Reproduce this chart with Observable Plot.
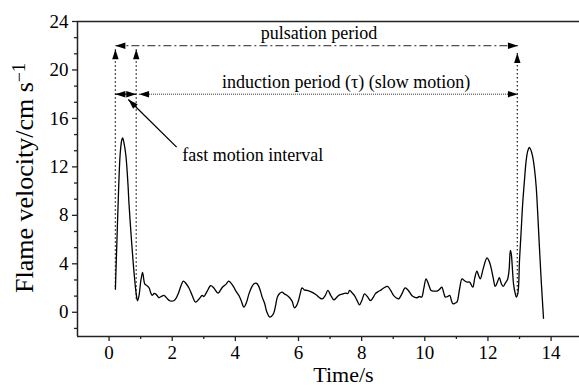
<!DOCTYPE html>
<html><head><meta charset="utf-8">
<script src="https://cdn.jsdelivr.net/npm/d3@7"></script>
<script src="https://cdn.jsdelivr.net/npm/@observablehq/plot@0.6"></script>
<style>
html,body{margin:0;padding:0;background:#fff;overflow:hidden}
#chart svg{display:block}
#chart svg text{font-family:'Liberation Serif','Times New Roman',serif}
</style></head><body><div id="chart"></div>
<script>
// ---- data ----
const time = [0.20,0.25,0.30,0.35,0.40,0.43,0.47,0.53,0.60,0.63,0.70,0.74,0.80,0.86,0.90,0.95,1.00,1.06,1.10,1.13,1.20,1.27,1.32,1.37,1.43,1.48,1.53,1.58,1.65,1.74,1.80,1.85,1.92,1.97,2.05,2.11,2.20,2.28,2.35,2.43,2.53,2.63,2.74,2.85,2.95,3.00,3.10,3.22,3.32,3.45,3.59,3.70,3.79,3.88,3.95,4.03,4.11,4.18,4.27,4.35,4.43,4.52,4.59,4.66,4.73,4.80,4.85,4.93,5.00,5.09,5.20,5.27,5.33,5.40,5.48,5.56,5.64,5.72,5.80,5.87,5.93,6.00,6.06,6.11,6.18,6.27,6.38,6.48,6.58,6.67,6.75,6.85,6.93,7.02,7.12,7.20,7.27,7.38,7.49,7.56,7.62,7.70,7.77,7.85,7.93,8.01,8.09,8.18,8.28,8.36,8.43,8.52,8.59,8.70,8.82,8.92,9.01,9.09,9.17,9.27,9.38,9.48,9.59,9.67,9.75,9.83,9.90,9.97,10.04,10.12,10.20,10.30,10.39,10.47,10.54,10.60,10.65,10.72,10.79,10.84,10.89,10.96,11.02,11.10,11.18,11.26,11.34,11.42,11.52,11.58,11.65,11.71,11.76,11.85,11.97,12.04,12.10,12.17,12.23,12.30,12.36,12.42,12.48,12.55,12.62,12.67,12.71,12.74,12.77,12.81,12.86,12.90,12.95,13.00,13.05,13.10,13.16,13.21,13.26,13.31,13.36,13.42,13.48,13.53,13.58,13.63,13.69,13.76];
const velocity = [1.9,6.0,10.0,13.0,14.2,14.4,14.0,13.0,10.5,9.0,6.3,4.9,3.0,1.5,0.95,1.4,2.5,3.3,2.7,2.35,2.2,2.0,1.6,1.4,1.55,1.5,1.35,1.2,1.3,1.4,1.25,1.1,0.95,0.92,0.95,1.1,1.6,2.2,2.57,2.4,2.0,1.4,0.84,1.1,1.4,1.3,1.7,2.2,2.0,1.58,2.07,2.3,2.57,2.35,2.07,1.7,1.39,1.0,0.42,0.8,1.52,2.1,2.35,2.4,2.2,1.7,1.25,0.7,0.0,-0.4,-0.15,0.5,1.25,1.55,1.66,1.5,1.39,1.2,0.9,0.37,0.5,0.97,1.6,2.02,1.85,1.8,1.7,1.58,1.4,1.2,1.1,1.4,1.8,1.4,1.03,1.2,1.39,1.5,1.58,1.55,1.8,1.6,1.39,1.0,0.62,1.0,1.52,1.3,0.97,1.2,1.52,1.7,1.8,2.0,2.13,1.8,1.39,1.2,1.1,1.5,2.02,1.8,1.39,1.25,1.2,1.3,1.25,2.0,2.76,2.3,1.8,1.75,1.75,1.9,2.07,1.6,1.25,1.3,1.39,1.0,0.7,0.75,0.85,1.9,2.76,2.6,2.49,2.49,2.07,2.8,3.4,3.0,2.76,3.6,4.49,4.2,3.67,2.8,2.13,2.5,2.85,2.4,2.13,2.4,2.7,3.5,5.1,4.8,3.8,2.35,1.6,1.25,1.6,4.3,6.6,8.95,11.0,12.5,13.3,13.6,13.4,12.8,11.7,10.3,8.0,5.4,2.5,-0.5];

// axis ticks
const xMajorTicks = [0, 2, 4, 6, 8, 10, 12, 14];
const xMinorTicks = [1, 3, 5, 7, 9, 11, 13];
const yMajorTicks = [0, 4, 8, 12, 16, 20, 24];
const yMinorTicks = [-4/3, 4/3, 8/3, 16/3, 20/3, 28/3, 32/3, 40/3, 44/3, 52/3, 56/3, 64/3, 68/3];

// annotations
const guideX = [0.2, 0.86, 12.93];      // vertical dotted guide lines
const guideTop = [21.7, 21.7, 21.4];
const guideBottom = [1.9, 0.9, 1.3];
const pulsationSpan = [0.2, 12.95, 22];  // x1, x2, y
const fastSpan = [0.2, 0.86, 18];
const inductionSpan = [0.95, 12.95, 18];
const pointerFrom = [2.14, 13.63];
const pointerTo = [0.61, 17.56];
const headX = [0.2, 0.86, 12.93, 0.2, 12.95, 0.2, 0.86, 0.95, 12.95, 0.61];
const headY = [21.7, 21.7, 21.4, 22, 22, 18, 18, 18, 18, 17.56];
const headAngle = [0, 0, 0, -90, 90, -90, 90, -90, 90, -45];
const labelText = ["pulsation period", "induction period (τ) (slow motion)", "fast motion interval"];
const labelX = [6.65, 7.51, 2.32];
const labelY = [23.05, 19.0, 13.0];
const labelAnchor = ["middle", "middle", "start"];

const series = time.map((t, i) => ({t, v: velocity[i]}));
const guides = guideX.map((x, i) => ({x, y1: guideTop[i], y2: guideBottom[i]}));
const heads = headX.map((x, i) => ({x, y: headY[i], a: headAngle[i]}));
const labels = labelText.map((s, i) => ({s, x: labelX[i], y: labelY[i], anchor: labelAnchor[i]}));

const serif = "'Liberation Serif', 'Times New Roman', serif";
const arrowHead = {draw(ctx) { ctx.moveTo(0, 0); ctx.lineTo(-3.2, 10); ctx.lineTo(3.2, 10); ctx.closePath(); }};

const plot = Plot.plot({
  width: 579, height: 386,
  marginTop: 21, marginBottom: 50, marginLeft: 77, marginRight: 0,
  style: {fontFamily: serif, fontSize: "19px", background: "#fff", color: "#000"},
  x: {domain: [-1, 14.9]},
  y: {domain: [-2, 24]},
  marks: [
    Plot.axisX({ticks: xMajorTicks, tickSize: 5, tickPadding: 4, label: null, stroke: "#222", strokeWidth: 1.3, fontFamily: serif, fontSize: 19}),
    Plot.axisX({ticks: xMinorTicks, tickSize: 3, tickFormat: () => "", label: null, stroke: "#222", strokeWidth: 1.3}),
    Plot.axisY({ticks: yMajorTicks, tickSize: 5, tickPadding: 4, label: null, stroke: "#222", strokeWidth: 1.3, fontFamily: serif, fontSize: 19}),
    Plot.axisY({ticks: yMinorTicks, tickSize: 3, tickFormat: () => "", label: null, stroke: "#222", strokeWidth: 1.3}),
    Plot.ruleY([-2, 24], {stroke: "#222", strokeWidth: 1.5}),
    Plot.ruleX([-1], {stroke: "#222", strokeWidth: 1.5}),
    Plot.link(guides, {x1: "x", x2: "x", y1: "y1", y2: "y2", stroke: "#222", strokeWidth: 1.3, strokeDasharray: "1.5,2.5"}),
    Plot.link([pulsationSpan], {x1: d => d[0], x2: d => d[1], y1: d => d[2], y2: d => d[2], stroke: "#222", strokeWidth: 1, strokeDasharray: "8,3,2,3"}),
    Plot.link([inductionSpan], {x1: d => d[0], x2: d => d[1], y1: d => d[2], y2: d => d[2], stroke: "#333", strokeWidth: 1, strokeDasharray: "1,1"}),
    Plot.link([fastSpan], {x1: d => d[0], x2: d => d[1], y1: d => d[2], y2: d => d[2], stroke: "#000", strokeWidth: 1.2}),
    Plot.link([[pointerFrom, pointerTo]], {x1: d => d[0][0], y1: d => d[0][1], x2: d => d[1][0], y2: d => d[1][1], stroke: "#000", strokeWidth: 1.3}),
    Plot.dot(heads, {x: "x", y: "y", rotate: "a", symbol: arrowHead, fill: "#000", stroke: "none", r: 4}),
    Plot.line(series, {x: "t", y: "v", curve: "catmull-rom", stroke: "#000", strokeWidth: 1.3}),
    Plot.text(labels, {x: "x", y: "y", text: "s", textAnchor: "start", filter: d => d.anchor === "start", fontSize: 18, fontFamily: serif, lineAnchor: "middle"}),
    Plot.text(labels, {x: "x", y: "y", text: "s", textAnchor: "middle", filter: d => d.anchor === "middle", fontSize: 18, fontFamily: serif, lineAnchor: "middle"}),
    Plot.text(["Time/s"], {frameAnchor: "bottom", dx: 15, dy: 45, lineAnchor: "bottom", fontSize: 22, fontFamily: serif})
  ]
});
document.getElementById("chart").appendChild(plot);

const yTitle = d3.select(plot).append("text")
  .attr("transform", "translate(33,178) rotate(-90)")
  .attr("text-anchor", "middle")
  .attr("fill", "#000")
  .style("font-family", serif)
  .style("font-size", "26px");
yTitle.append("tspan").text("Flame velocity/cm s");
yTitle.append("tspan").attr("dy", "-0.42em").style("font-size", "18px").text("−1");
</script>
</body></html>
